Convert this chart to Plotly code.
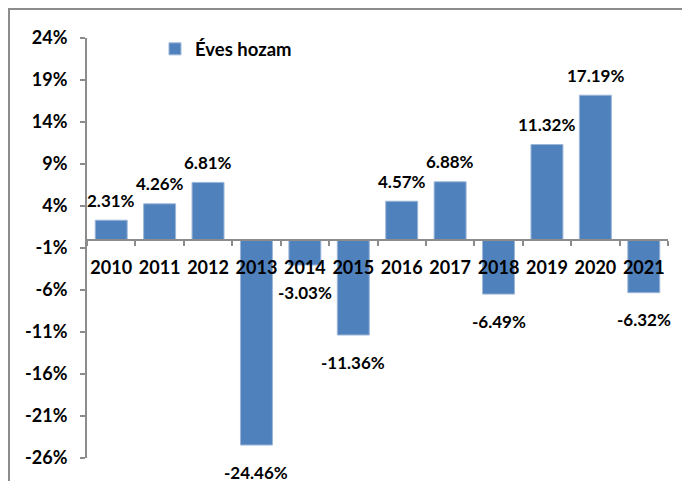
import plotly.graph_objects as go

years = ["2010", "2011", "2012", "2013", "2014", "2015", "2016", "2017", "2018", "2019", "2020", "2021"]
returns = [2.31, 4.26, 6.81, -24.46, -3.03, -11.36, 4.57, 6.88, -6.49, 11.32, 17.19, -6.32]
series_name = "Éves hozam"
y_ticks = [-26, -21, -16, -11, -6, -1, 4, 9, 14, 19, 24]

FONT = "Lato"
BLUE = "#4f81bd"
GRAY = "#8c8c8c"

# page body has an 8px margin, so the figure is laid out 8px right/down
OFF = 8
W, H = 690, 481
L, R, T, B = 87 - OFF, W - (668 - OFF), 38 - OFF, H - (458 - OFF)
PW, PH = W - L - R, H - T - B

fig = go.Figure()
fig.add_trace(go.Bar(
    x=years, y=returns, name=series_name,
    marker=dict(color=BLUE, line=dict(color="#9db7d8", width=1)),
    showlegend=True,
))

# category axis: annotation x given as category index
for i, v in enumerate(returns):
    fig.add_annotation(
        x=i, y=v, xref="x", yref="y", text=f"{v:.2f}%", showarrow=False,
        yshift=20 if v >= 0 else -27,
        font=dict(family=FONT, size=17, color="black", weight="bold"),
    )

y0, y1 = -26, 24
zero_frac = (0 - y0) / (y1 - y0)

fig.update_layout(
    width=W, height=H,
    margin=dict(l=L, r=R, t=T, b=B, autoexpand=False),
    paper_bgcolor="white", plot_bgcolor="white",
    bargap=0.34,
    font=dict(family=FONT, size=18, color="black", weight="bold"),
    legend=dict(x=0.117, y=0.973, xanchor="left", yanchor="middle",
                bgcolor="rgba(0,0,0,0)", itemwidth=30,
                font=dict(family=FONT, size=18.5, color="black", weight="bold")),
    xaxis=dict(
        type="category", categoryorder="array", categoryarray=years,
        range=[-0.5, len(years) - 0.5], automargin=False,
        anchor="free", position=zero_frac, tickangle=0,
        showline=True, linecolor=GRAY, linewidth=2,
        ticks="outside", ticklen=5, tickcolor=GRAY, tickwidth=1.5,
        tickson="boundaries", showgrid=False, zeroline=False,
        ticklabelstandoff=12,
        tickfont=dict(family=FONT, size=18, color="black", weight="bold"),
    ),
    yaxis=dict(
        range=[y0, y1], tickvals=y_ticks, automargin=False,
        ticktext=[f"{t}%" for t in y_ticks],
        showline=True, linecolor=GRAY, linewidth=2,
        ticks="outside", ticklen=5, tickcolor=GRAY, tickwidth=1.5,
        showgrid=False, zeroline=False, ticklabelstandoff=9,
        tickfont=dict(family=FONT, size=18, color="black", weight="bold"),
    ),
    shapes=[dict(type="rect", xref="paper", yref="paper",
                 x0=(1 - L) / PW, x1=(W + 10 - L) / PW,
                 y0=-(H + 10 - (H - B)) / PH, y1=1 + (T - 1) / PH,
                 line=dict(color=GRAY, width=2), layer="below")],
)

fig.write_html("out.html")
